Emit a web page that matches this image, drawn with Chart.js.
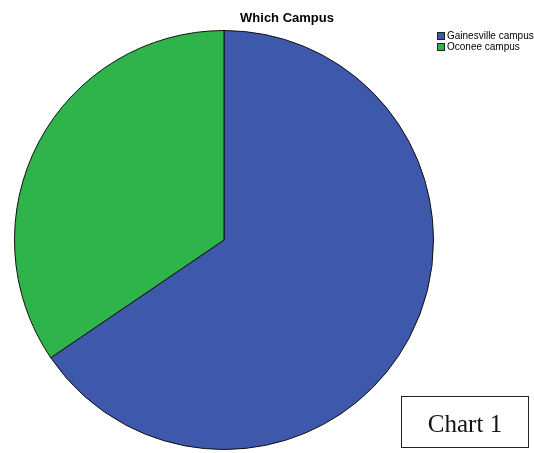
<!DOCTYPE html>
<html>
<head>
<meta charset="utf-8">
<script src="https://cdn.jsdelivr.net/npm/chart.js@4"></script>
<style>
    body { margin: 0; background: #fff; }
    #wrap { position: relative; width: 534px; height: 453px; overflow: hidden; }
    #pie { position: absolute; left: 0; top: 0; }
    #tag {
        position: absolute; left: 401px; top: 396px; width: 126px; height: 50px;
        border: 1px solid #222; font-family: "Liberation Serif", serif; font-size: 25px;
        line-height: 54px; text-align: center; color: #111;
    }
</style>
</head>
<body>
<div id="wrap">
    <canvas id="pie" width="534" height="453"></canvas>
    <div id="tag">Chart 1</div>
</div>
<script>
const categories = ['Gainesville campus', 'Oconee campus'];
const shares = [65.5, 34.5];
const sliceColors = ['#3e58ac', '#2eb44a'];

// title + legend drawn by hand so they take no room from the pie
const decorations = {
    id: 'decorations',
    afterDraw(chart) {
        const ctx = chart.ctx;
        ctx.save();
        ctx.fillStyle = '#000';
        ctx.font = 'bold 13px "Liberation Sans", Arial, sans-serif';
        ctx.textAlign = 'center';
        ctx.textBaseline = 'middle';
        ctx.fillText('Which Campus', 287, 18);

        ctx.font = '10px "Liberation Sans", Arial, sans-serif';
        ctx.textAlign = 'left';
        categories.forEach((name, i) => {
            const y = 32 + i * 11;
            ctx.fillStyle = sliceColors[i];
            ctx.fillRect(437, y, 8, 8);
            ctx.strokeStyle = '#222';
            ctx.lineWidth = 1;
            ctx.strokeRect(437.5, y + 0.5, 7, 7);
            ctx.fillStyle = '#000';
            ctx.fillText(name, 447, y + 4.5);
        });
        ctx.restore();
    }
};

new Chart(document.getElementById('pie'), {
    type: 'pie',
    data: {
        labels: categories,
        datasets: [{
            data: shares,
            backgroundColor: sliceColors,
            borderColor: '#111',
            borderWidth: 1
        }]
    },
    options: {
        responsive: false,
        animation: false,
        layout: { padding: { left: 14, top: 28, right: 100, bottom: 1 } },
        plugins: {
            legend: { display: false },
            title: { display: false },
            tooltip: { enabled: false }
        }
    },
    plugins: [decorations]
});
</script>
</body>
</html>
